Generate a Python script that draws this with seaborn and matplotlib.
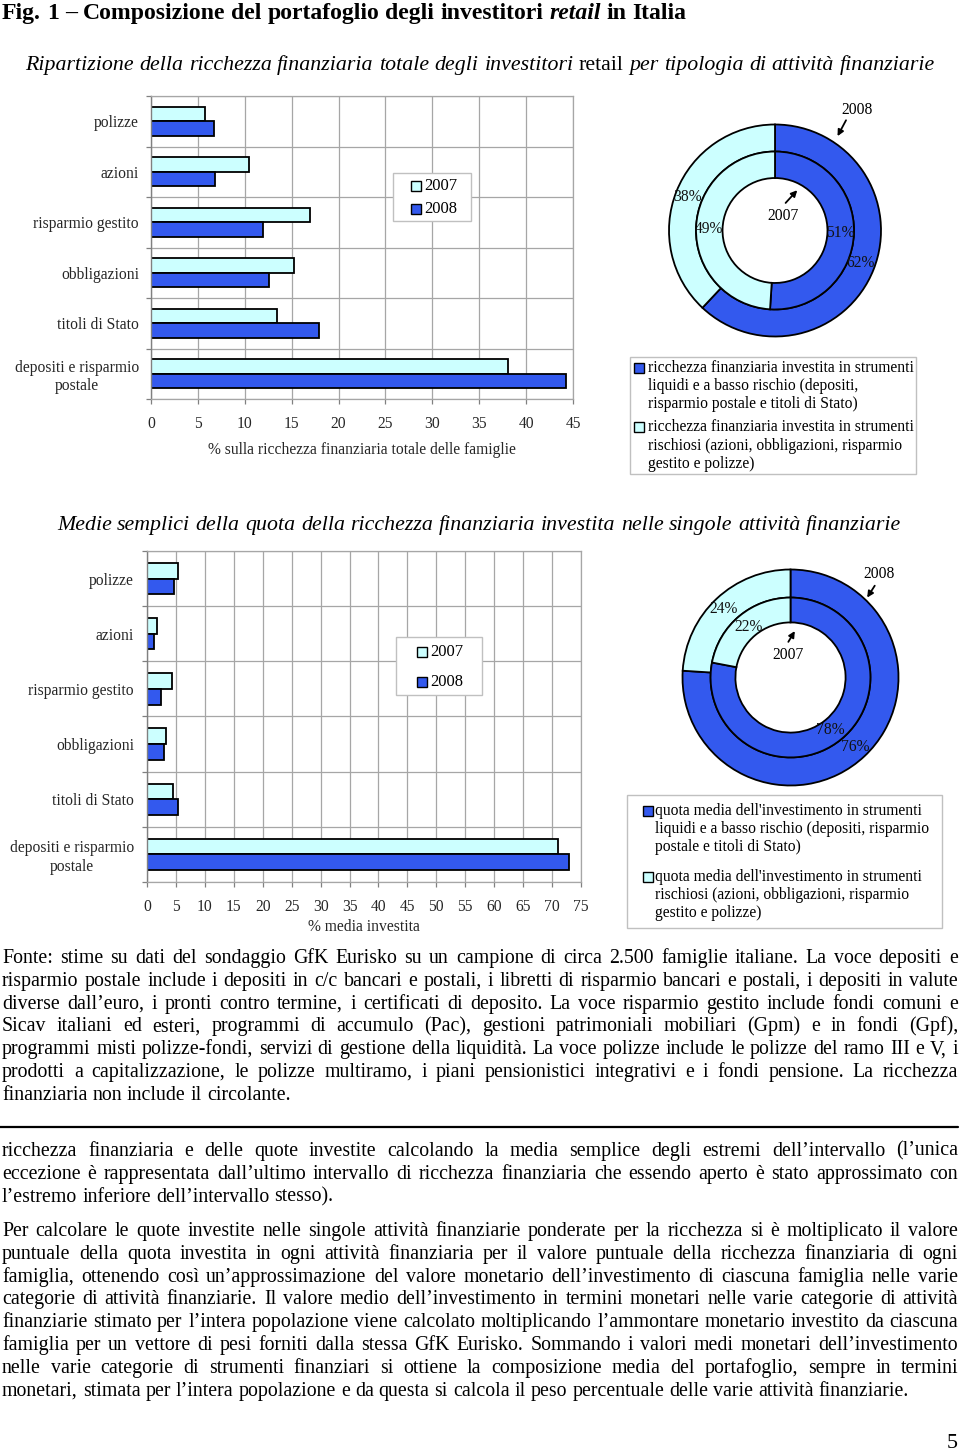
import numpy as np
import pandas as pd
import matplotlib
matplotlib.use("Agg")
import matplotlib.pyplot as plt
import seaborn as sns
from matplotlib.font_manager import FontProperties
from matplotlib.patches import Rectangle
from matplotlib.lines import Line2D

# ---------------- data ----------------
categories = ["polizze", "azioni", "risparmio gestito", "obbligazioni",
              "titoli di Stato", "depositi e risparmio\npostale"]
years = ["2007", "2008"]
total_share_2007 = [5.8, 10.4, 17.0, 15.2, 13.4, 38.1]
total_share_2008 = [6.7, 6.8, 11.9, 12.6, 17.9, 44.3]
mean_share_2007 = [5.3, 1.8, 4.4, 3.3, 4.5, 71.1]
mean_share_2008 = [4.7, 1.2, 2.5, 3.0, 5.3, 73.0]
top_ticks = [0, 5, 10, 15, 20, 25, 30, 35, 40, 45]
bottom_ticks = [0, 5, 10, 15, 20, 25, 30, 35, 40, 45, 50, 55, 60, 65, 70, 75]

donut_total_2007 = [51, 49]   # liquidi / rischiosi
donut_total_2008 = [62, 38]
donut_mean_2007 = [78, 22]
donut_mean_2008 = [76, 24]

legend_total = ["ricchezza finanziaria investita in strumenti\nliquidi e a basso rischio (depositi,\nrisparmio postale e titoli di Stato)",
                "ricchezza finanziaria investita in strumenti\nrischiosi (azioni, obbligazioni, risparmio\ngestito e polizze)"]
legend_mean = ["quota media dell'investimento in strumenti\nliquidi e a basso rischio (depositi, risparmio\npostale e titoli di Stato)",
               "quota media dell'investimento in strumenti\nrischiosi (azioni, obbligazioni, risparmio\ngestito e polizze)"]

p1 = ["Fonte: stime su dati del sondaggio GfK Eurisko su un campione di circa 2.500 famiglie italiane. La voce depositi e",
      "risparmio postale include i depositi in c/c bancari e postali, i libretti di risparmio bancari e postali, i depositi in valute",
      "diverse dall’euro, i pronti contro termine, i certificati di deposito. La voce risparmio gestito include fondi comuni e",
      "Sicav italiani ed esteri, programmi di accumulo (Pac), gestioni patrimoniali mobiliari (Gpm) e in fondi (Gpf),",
      "programmi misti polizze-fondi, servizi di gestione della liquidità. La voce polizze include le polizze del ramo III e V, i",
      "prodotti a capitalizzazione, le polizze multiramo, i piani pensionistici integrativi e i fondi pensione. La ricchezza",
      "finanziaria non include il circolante."]
p2 = ["ricchezza finanziaria e delle quote investite calcolando la media semplice degli estremi dell’intervallo (l’unica",
      "eccezione è rappresentata dall’ultimo intervallo di ricchezza finanziaria che essendo aperto è stato approssimato con",
      "l’estremo inferiore dell’intervallo stesso)."]
p3 = ["Per calcolare le quote investite nelle singole attività finanziarie ponderate per la ricchezza si è moltiplicato il valore",
      "puntuale della quota investita in ogni attività finanziaria per il valore puntuale della ricchezza finanziaria di ogni",
      "famiglia, ottenendo così un’approssimazione del valore monetario dell’investimento di ciascuna famiglia nelle varie",
      "categorie di attività finanziarie. Il valore medio dell’investimento in termini monetari nelle varie categorie di attività",
      "finanziarie stimato per l’intera popolazione viene calcolato moltiplicando l’ammontare monetario investito da ciascuna",
      "famiglia per un vettore di pesi forniti dalla stessa GfK Eurisko. Sommando i valori medi monetari dell’investimento",
      "nelle varie categorie di strumenti finanziari si ottiene la composizione media del portafoglio, sempre in termini",
      "monetari, stimata per l’intera popolazione e da questa si calcola il peso percentuale delle varie attività finanziarie."]

# ---------------- style ----------------
BLUE = "#3359EE"
LIGHT = "#CCFFFF"
GRID = "#A6A6A6"
SERIF = "Liberation Serif"
sns.set_theme(style="white")
plt.rcParams["font.family"] = [SERIF, "DejaVu Serif"]
plt.rcParams["text.color"] = "black"

W, H = 960, 1451
PT = 0.72  # px -> pt at 100 dpi
AX_PX = 15.6
fig = plt.figure(figsize=(W / 100, H / 100), dpi=100)
fig.patch.set_facecolor("white")
renderer = fig.canvas.get_renderer()


def fx(x):
    return x / W


def fy(y):
    return 1 - y / H


def add_ax(x0, y0, x1, y1):
    return fig.add_axes([x0 / W, 1 - y1 / H, (x1 - x0) / W, (y1 - y0) / H])


def fp_(size_px, style="normal", weight="normal"):
    return FontProperties(family=SERIF, style=style, weight=weight, size=size_px * PT)


def tw(s, fp):
    w, h, d = renderer.get_text_width_height_descent(s, fp, ismath=False)
    return w


def sw(fp):
    return tw("x x", fp) - tw("xx", fp)


def box_legend(box, sq_x, txt_x, labels, line_ys, colors, size_px, sq=10):
    x0, y0, x1, y1 = box
    fig.add_artist(Rectangle((fx(x0), fy(y1)), (x1 - x0) / W, (y1 - y0) / H,
                             transform=fig.transFigure, facecolor="white",
                             edgecolor="#C0C0C0", lw=1.0, zorder=4))
    k = 0
    for i, lab in enumerate(labels):
        lines = lab.split("\n")
        yc = line_ys[k]
        fig.add_artist(Rectangle((fx(sq_x), fy(yc + sq / 2)), sq / W, sq / H,
                                 transform=fig.transFigure, facecolor=colors[i],
                                 edgecolor="black", lw=1.0, zorder=5))
        for ln in lines:
            fig.text(fx(txt_x), fy(line_ys[k]), ln, ha="left", va="center",
                     fontsize=size_px * PT, zorder=5)
            k += 1


# ---------------- bar charts ----------------
def bar_chart(rect, v07, v08, ticks, xlabel, ypad, xpad, labelpad):
    ax = add_ax(*rect)
    df = pd.DataFrame({"categoria": categories * 2,
                       "anno": [years[0]] * len(categories) + [years[1]] * len(categories),
                       "valore": list(v07) + list(v08)})
    sns.barplot(data=df, x="valore", y="categoria", hue="anno", hue_order=years,
                palette={years[0]: LIGHT, years[1]: BLUE}, orient="h", width=0.57,
                edgecolor="black", linewidth=1.3, saturation=1, legend=False, ax=ax)
    ax.set_xlim(ticks[0], ticks[-1])
    ax.set_ylim(len(categories) - 0.5, -0.5)
    ax.set_xticks(ticks)
    ax.set_xticklabels([str(t) for t in ticks])
    ax.set_yticks(range(len(categories)))
    ax.set_yticklabels(categories)
    ax.set_yticks(np.arange(-0.5, len(categories), 1), minor=True)
    ax.tick_params(axis="y", which="major", length=0, pad=ypad, labelsize=AX_PX * PT)
    ax.tick_params(axis="y", which="minor", length=5 * PT, color="#808080", width=0.9, left=True)
    ax.tick_params(axis="x", which="major", length=5 * PT, color="#808080", width=0.9,
                   pad=xpad, labelsize=AX_PX * PT, bottom=True)
    for lbl in ax.get_yticklabels():
        lbl.set_multialignment("center")
    ax.grid(axis="x", which="major", color=GRID, lw=0.9)
    ax.grid(axis="y", which="minor", color=GRID, lw=0.9)
    ax.grid(axis="y", which="major", visible=False)
    ax.set_axisbelow(True)
    for s in ["top", "right", "bottom"]:
        ax.spines[s].set_color(GRID)
        ax.spines[s].set_linewidth(0.9)
    ax.spines["left"].set_color("#808080")
    ax.spines["left"].set_linewidth(1.0)
    ax.set_ylabel("")
    ax.set_xlabel(xlabel, fontsize=AX_PX * PT, labelpad=labelpad)
    return ax


bar_chart((151, 96, 573, 399), total_share_2007, total_share_2008, top_ticks,
          "% sulla ricchezza finanziaria totale delle famiglie", 12 * PT, 8.3, 7.8)
bar_chart((147, 551, 581, 882), mean_share_2007, mean_share_2008, bottom_ticks,
          "% media investita", 13 * PT, 8.9, 2.8)
box_legend((393, 173, 471, 221), 411, 424, years, [186, 209], [LIGHT, BLUE], 16.5)
box_legend((396, 637, 482, 695), 417, 430, years, [652, 682], [LIGHT, BLUE], 16.5)


# ---------------- donuts ----------------
def donut(cx, cy, R, inner, outer, r_mid, w_out, w_in, pct_pos, y07, y08):
    L = 1.4
    ax = add_ax(cx - L * R, cy - L * R, cx + L * R, cy + L * R)
    ax.pie(outer, radius=1.0, colors=[BLUE, LIGHT], startangle=90, counterclock=False,
           wedgeprops=dict(width=w_out, edgecolor="black", linewidth=1.3))
    ax.pie(inner, radius=r_mid, colors=[BLUE, LIGHT], startangle=90, counterclock=False,
           wedgeprops=dict(width=w_in, edgecolor="black", linewidth=1.3))
    ax.set_xlim(-L, L)
    ax.set_ylim(-L, L)
    ax.set_aspect("equal")
    ax.patch.set_visible(False)
    vals = [outer[1], inner[1], inner[0], outer[0]]
    for v, (px, py) in zip(vals, pct_pos):
        ax.text(px, py, f"{v}%", ha="center", va="center", fontsize=AX_PX * PT, color="#111111")
    for yr, spec in zip(years, (y07, y08)):
        (tx, ty), (ax0, ay0), (hx, hy) = spec
        ax.text(tx, ty, yr, ha="center", va="center", fontsize=AX_PX * PT)
        ax.annotate("", xy=(hx, hy), xytext=(ax0, ay0),
                    arrowprops=dict(arrowstyle="-|>", color="black", lw=1.3, mutation_scale=9,
                                    shrinkA=0, shrinkB=0))
    return ax


donut(775, 230.5, 106, donut_total_2007, donut_total_2008, 0.745, 0.255, 0.25,
      [(-0.83, 0.32), (-0.62, 0.01), (0.62, -0.02), (0.81, -0.31)],
      ((0.08, 0.14), (0.10, 0.26), (0.21, 0.38)),
      ((0.77, 1.14), (0.67, 1.04), (0.59, 0.89)))
donut(790.5, 677.5, 108, donut_mean_2007, donut_mean_2008, 0.74, 0.26, 0.23,
      [(-0.62, 0.63), (-0.39, 0.47), (0.37, -0.49), (0.60, -0.64)],
      ((-0.02, 0.21), (-0.02, 0.33), (0.04, 0.43)),
      ((0.82, 0.96), (0.78, 0.85), (0.71, 0.74)))

box_legend((630, 357, 916, 474), 634, 648, legend_total, [368, 386, 404, 427, 446, 464],
           [BLUE, LIGHT], 15.6)
box_legend((627, 795, 942, 928), 643, 655, legend_mean, [811, 829, 847, 877, 895, 913],
           [BLUE, LIGHT], 15.6)


# ---------------- page text ----------------
def draw_runs(runs, yc, size_px, target_w, x_left=None, x_center=None):
    def layout(sz):
        words = []
        for text, style, weight in runs:
            f = fp_(sz, style, weight)
            for wd in text.split():
                words.append((wd, f))
        total = 0
        for i, (wd, f) in enumerate(words):
            total += tw(wd, f)
            if i < len(words) - 1:
                total += sw(f)
        return words, total
    words, total = layout(size_px)
    size_px = size_px * target_w / total
    words, total = layout(size_px)
    x = x_left if x_left is not None else x_center - total / 2
    base = yc + 0.30 * size_px
    for i, (wd, f) in enumerate(words):
        fig.text(fx(x), fy(base), wd, fontproperties=f, ha="left", va="baseline")
        x += tw(wd, f)
        if i < len(words) - 1:
            x += sw(f)


draw_runs([("Fig. 1 – Composizione del portafoglio degli investitori", "normal", "bold"),
           ("retail", "italic", "bold"), ("in Italia", "normal", "bold")],
          12, 22, 686, x_left=2)
draw_runs([("Ripartizione della ricchezza finanziaria totale degli investitori", "italic", "normal"),
           ("retail", "normal", "normal"),
           ("per tipologia di attività finanziarie", "italic", "normal")],
          63, 20, 904, x_center=480)
draw_runs([("Medie semplici della quota della ricchezza finanziaria investita nelle singole attività finanziarie",
            "italic", "normal")], 523, 20, 838, x_center=479)

# paragraph font size calibrated on the last line of the last paragraph
f0 = fp_(18)
w_last = sum(tw(w, f0) for w in p3[-1].split()) + sw(f0) * (len(p3[-1].split()) - 1)
PAR_PX = 18 * 901 / w_last
XL, XR = 2, 958


def paragraph(lines, y0, step=22.8):
    for j, line in enumerate(lines):
        words = line.split()
        sz = PAR_PX
        f = fp_(sz)
        widths = [tw(w, f) for w in words]
        last = j == len(lines) - 1
        if not last:
            nat = sum(widths) + sw(f) * 0.75 * (len(words) - 1)
            if nat > XR - XL:
                sz = sz * (XR - XL) / nat
                f = fp_(sz)
                widths = [tw(w, f) for w in words]
            gap = (XR - XL - sum(widths)) / (len(words) - 1)
        else:
            gap = sw(f)
        base = y0 + j * step + 0.30 * sz
        x = XL
        for w, wd in zip(words, widths):
            fig.text(fx(x), fy(base), w, fontproperties=f, ha="left", va="baseline")
            x += wd + gap


paragraph(p1, 957)
fig.add_artist(Line2D([fx(0), fx(958)], [fy(1127), fy(1127)], transform=fig.transFigure,
                      color="black", lw=1.6))
paragraph(p2, 1150)
paragraph(p3, 1230)
fig.text(fx(952), fy(1441 + 0.3 * 22), "5", fontproperties=fp_(22), ha="center", va="baseline")

fig.savefig("out.png", dpi=100, facecolor="white")
